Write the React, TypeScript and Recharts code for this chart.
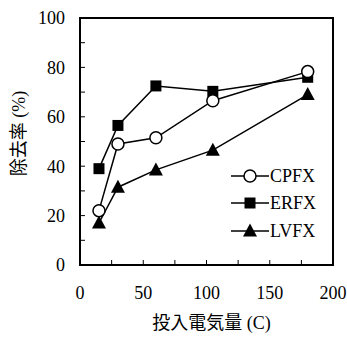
import React from 'react';
import {
    LineChart,
    Line,
    XAxis,
    YAxis,
    ReferenceArea,
} from 'recharts';

// 投入電気量 (C)
const charge = [15, 30, 60, 105, 180];
// 除去率 (%)
const cpfx = [22, 49, 51.5, 66.5, 78.3];
const erfx = [39, 56.5, 72.5, 70.3, 76];
const lvfx = [17, 31.5, 38.5, 46.5, 69];

const xTicks = [0, 25, 50, 75, 100, 125, 150, 175, 200];
const yTicks = [0, 10, 20, 30, 40, 50, 60, 70, 80, 90, 100];

const data = charge.map((c, i) => ({ charge: c, CPFX: cpfx[i], ERFX: erfx[i], LVFX: lvfx[i] }));

const SERIF = "'Liberation Serif', 'Times New Roman', 'Noto Sans CJK JP', serif";

const CircleDot = (props: any) => (
    <circle key={`c-${props.index}`} cx={props.cx} cy={props.cy} r={6} fill="#fff" stroke="#000" strokeWidth={1.5} />
);
const SquareDot = (props: any) => (
    <rect key={`s-${props.index}`} x={props.cx - 5.5} y={props.cy - 5.5} width={11} height={11} fill="#000" />
);
const TriangleDot = (props: any) => (
    <polygon
        key={`t-${props.index}`}
        points={`${props.cx},${props.cy - 7.5} ${props.cx - 7},${props.cy + 5.5} ${props.cx + 7},${props.cy + 5.5}`}
        fill="#000"
    />
);

const legendItems = [
    { name: 'CPFX', marker: 'circle' },
    { name: 'ERFX', marker: 'square' },
    { name: 'LVFX', marker: 'triangle' },
];

const LegendMarker = ({ kind }: { kind: string }) => (
    <svg width={38} height={18} style={{ display: 'block' }}>
        <line x1={0} y1={9} x2={38} y2={9} stroke="#000" strokeWidth={1.5} />
        {kind === 'circle' && <circle cx={19} cy={9} r={6} fill="#fff" stroke="#000" strokeWidth={1.5} />}
        {kind === 'square' && <rect x={13.5} y={3.5} width={11} height={11} fill="#000" />}
        {kind === 'triangle' && <polygon points="19,1.5 12,14.5 26,14.5" fill="#000" />}
    </svg>
);

const YLabel = (props: any) => {
    const vb = props.viewBox;
    const cx = vb.x + 19;
    const cy = vb.y + vb.height / 2 - 8;
    return (
        <text
            x={cx}
            y={cy}
            transform={`rotate(-90, ${cx}, ${cy})`}
            textAnchor="middle"
            dominantBaseline="central"
            fontSize={18}
            fontFamily={SERIF}
            fill="#000"
        >
            除去率 (%)
        </text>
    );
};

const XLabel = (props: any) => {
    const vb = props.viewBox;
    return (
        <text
            x={vb.x + vb.width / 2 + 5}
            y={vb.y + vb.height - 13}
            textAnchor="middle"
            fontSize={18}
            fontFamily={SERIF}
            fill="#000"
        >
            投入電気量 (C)
        </text>
    );
};

const App: React.FC = () => {
    return (
        <div style={{ position: 'absolute', left: 0, top: 0, width: 347, height: 342, background: '#fff' }}>
            <LineChart
                width={347}
                height={342}
                data={data}
                margin={{ top: 18, right: 14, left: 0, bottom: 0 }}
            >
                <ReferenceArea x1={0} x2={200} y1={0} y2={100} fill="none" stroke="#000" strokeWidth={2} />
                <XAxis
                    dataKey="charge"
                    type="number"
                    domain={[0, 200]}
                    ticks={xTicks}
                    interval={0}
                    tickFormatter={(v: number) => (v % 50 === 0 ? String(v) : '')}
                    height={77}
                    tickSize={-5}
                    tickMargin={26}
                    tick={{ fontSize: 18, fill: '#000', fontFamily: SERIF }}
                    tickLine={{ stroke: '#000', strokeWidth: 1 }}
                    axisLine={{ stroke: '#000', strokeWidth: 2 }}
                    label={XLabel}
                />
                <YAxis
                    type="number"
                    domain={[0, 100]}
                    ticks={yTicks}
                    interval={0}
                    tickFormatter={(v: number) => (v % 20 === 0 ? String(v) : '')}
                    width={80}
                    tickSize={-5}
                    tickMargin={20}
                    tick={{ fontSize: 18, fill: '#000', fontFamily: SERIF }}
                    tickLine={{ stroke: '#000', strokeWidth: 1 }}
                    axisLine={{ stroke: '#000', strokeWidth: 2 }}
                    label={YLabel}
                />
                <Line
                    dataKey="LVFX"
                    stroke="#000"
                    strokeWidth={1.5}
                    dot={TriangleDot}
                    isAnimationActive={false}
                />
                <Line
                    dataKey="ERFX"
                    stroke="#000"
                    strokeWidth={1.5}
                    dot={SquareDot}
                    isAnimationActive={false}
                />
                <Line
                    dataKey="CPFX"
                    stroke="#000"
                    strokeWidth={1.5}
                    dot={CircleDot}
                    isAnimationActive={false}
                />
            </LineChart>
            {/* 凡例 */}
            <div style={{ position: 'absolute', left: 231, top: 162, fontFamily: SERIF, fontSize: 18 }}>
                {legendItems.map((item) => (
                    <div key={item.name} style={{ display: 'flex', alignItems: 'center', height: 27.5 }}>
                        <LegendMarker kind={item.marker} />
                        <span style={{ marginLeft: 1, lineHeight: '18px' }}>{item.name}</span>
                    </div>
                ))}
            </div>
        </div>
    );
};

export default App;
